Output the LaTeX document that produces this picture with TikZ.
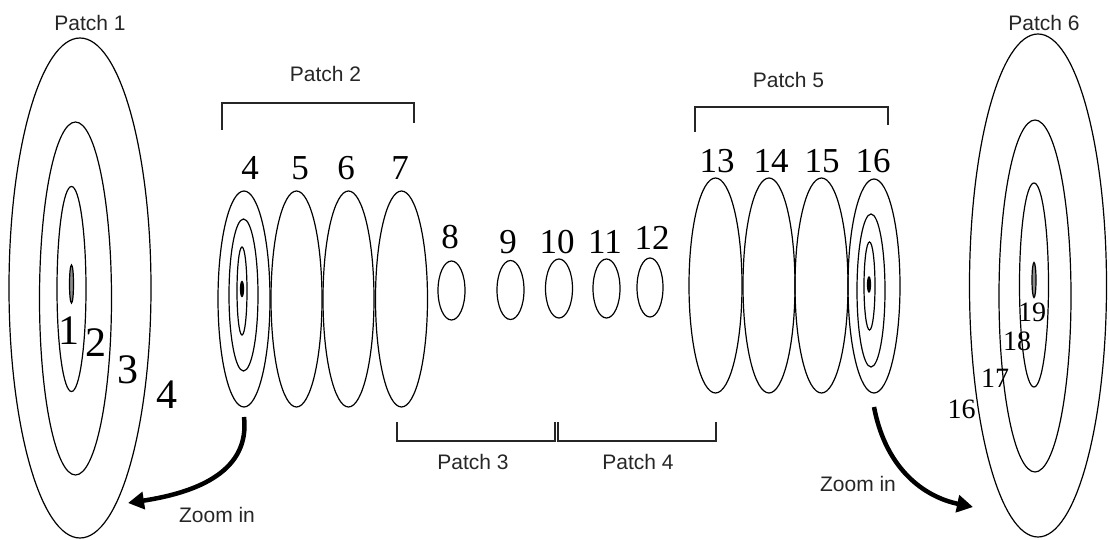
\documentclass[tikz,border=0pt]{standalone}
\usepackage{fontspec}
\setmainfont{Liberation Serif}
\newfontfamily\patchfont{Liberation Sans}
\usetikzlibrary{shapes.geometric,arrows.meta}

\tikzset{
  ring/.style={draw, ellipse, line width=1.2pt, inner sep=0pt, outer sep=0pt},
  core/.style={ring, fill=black},
  pin/.style={ring, fill=black!45},
  bignum/.style={inner sep=0pt, font=\fontsize{42}{42}\selectfont},
  num/.style={inner sep=0pt, font=\fontsize{35}{35}\selectfont},
  smallnum/.style={inner sep=0pt, font=\fontsize{28}{28}\selectfont},
  patchlabel/.style={inner sep=0pt, text=black!85, font=\patchfont\fontsize{21}{21}\selectfont},
  bracket/.style={line width=1.5pt, black!85},
  zoomarrow/.style={line width=4.5pt, -{Triangle[length=16pt,width=17pt]}}
}

\begin{document}
\begin{tikzpicture}[x=1pt, y=-1pt]
\useasboundingbox (0,0) rectangle (1109,540);

% ---- Patch 1: enlarged cross-section ----
\node[ring, minimum width=142pt, minimum height=500pt] (p1a) at (80,288) {};
\node[ring, minimum width=72pt, minimum height=353pt] (p1b) at (75.5,298.5) {};
\node[ring, minimum width=29pt, minimum height=205pt] (p1c) at (71.5,289) {};
\node[pin, minimum width=4pt, minimum height=38pt] (p1d) at (71.5,284) {};
\node[bignum] (l1a) at (69,331) {1};
\node[bignum] (l1b) at (96,343) {2};
\node[bignum] (l1c) at (128,370) {3};
\node[bignum] (l1d) at (167,395) {4};
\node[patchlabel] (t1) at (90,23) {Patch 1};

% ---- Patch 2: slices 4-7 ----
\node[ring, minimum width=52pt, minimum height=216pt] (e4) at (244,299) {};
\node[ring, minimum width=29pt, minimum height=152pt] (e4b) at (243.5,295) {};
\node[ring, minimum width=10pt, minimum height=88pt] (e4c) at (242,291) {};
\node[core, minimum width=3pt, minimum height=15pt] (e4d) at (242,289) {};
\node[ring, minimum width=51pt, minimum height=216pt] (e5) at (296.5,299) {};
\node[ring, minimum width=51pt, minimum height=216pt] (e6) at (348.5,299) {};
\node[ring, minimum width=52pt, minimum height=216pt] (e7) at (401.5,299) {};
\node[num] (n4) at (250,168) {4};
\node[num] (n5) at (300,168) {5};
\node[num] (n6) at (346,168) {6};
\node[num] (n7) at (400,168) {7};
\draw[bracket] (222,130) -- (222,103) -- (414,103) -- (414,123);
\node[patchlabel] (t2) at (325.5,74) {Patch 2};

% ---- Patches 3 and 4: slices 8-12 ----
\node[ring, minimum width=27pt, minimum height=59pt] (e8) at (451.5,290.5) {};
\node[ring, minimum width=27pt, minimum height=59pt] (e9) at (510.5,290) {};
\node[ring, minimum width=27pt, minimum height=59pt] (e10) at (559,288.5) {};
\node[ring, minimum width=27pt, minimum height=59pt] (e11) at (606.5,288.5) {};
\node[ring, minimum width=26pt, minimum height=59pt] (e12) at (650,287.5) {};
\node[num] (n8) at (450,237) {8};
\node[num] (n9) at (508,242) {9};
\node[num] (n10) at (557,242) {10};
\node[num] (n11) at (605,242) {11};
\node[num] (n12) at (652,238) {12};
\draw[bracket] (397,422) -- (397,441) -- (555,441) -- (555,422);
\draw[bracket] (558,422) -- (558,441) -- (716,441) -- (716,422);
\node[patchlabel] (t3) at (473,462) {Patch 3};
\node[patchlabel] (t4) at (638,462) {Patch 4};

% ---- Patch 5: slices 13-16 ----
\node[ring, minimum width=53pt, minimum height=215pt] (e13) at (715.5,285.5) {};
\node[ring, minimum width=52pt, minimum height=215pt] (e14) at (769,285.5) {};
\node[ring, minimum width=53pt, minimum height=215pt] (e15) at (821.5,285.5) {};
\node[ring, minimum width=52pt, minimum height=214pt] (e16) at (874,286) {};
\node[ring, minimum width=28pt, minimum height=153pt] (e16b) at (871,290.5) {};
\node[ring, minimum width=11pt, minimum height=88pt] (e16c) at (869.5,286) {};
\node[core, minimum width=3pt, minimum height=15pt] (e16d) at (869,284.5) {};
\node[num] (n13) at (717,161) {13};
\node[num] (n14) at (771,161) {14};
\node[num] (n15) at (822,161) {15};
\node[num] (n16) at (873,161) {16};
\draw[bracket] (695,132) -- (695,107) -- (888,107) -- (888,125);
\node[patchlabel] (t5) at (788.5,80) {Patch 5};

% ---- Patch 6: enlarged cross-section ----
\node[ring, minimum width=137pt, minimum height=503pt] (p6a) at (1038,285.5) {};
\node[ring, minimum width=72pt, minimum height=352pt] (p6b) at (1035,296) {};
\node[ring, minimum width=29pt, minimum height=204pt] (p6c) at (1034,285) {};
\node[pin, minimum width=4pt, minimum height=35pt] (p6d) at (1034,280) {};
\node[smallnum] (m19) at (1032,312) {19};
\node[smallnum] (m18) at (1017,341) {18};
\node[smallnum] (m17) at (995,378) {17};
\node[smallnum] (m16) at (961.5,409) {16};
\node[patchlabel] (t6) at (1044,23) {Patch 6};

% ---- zoom arrows ----
\coordinate (zl) at (128,503);
\coordinate (zr) at (973,507);
\draw[zoomarrow] ([yshift=-10pt]e4.south) .. controls (250,470) and (200,492) .. (zl);
\draw[zoomarrow] ([yshift=-14pt]e16.south) .. controls (886,470) and (925,497) .. (zr);
\node[patchlabel] (z1) at (217,515) {Zoom in};
\node[patchlabel] (z2) at (858,484) {Zoom in};
\end{tikzpicture}
\end{document}
